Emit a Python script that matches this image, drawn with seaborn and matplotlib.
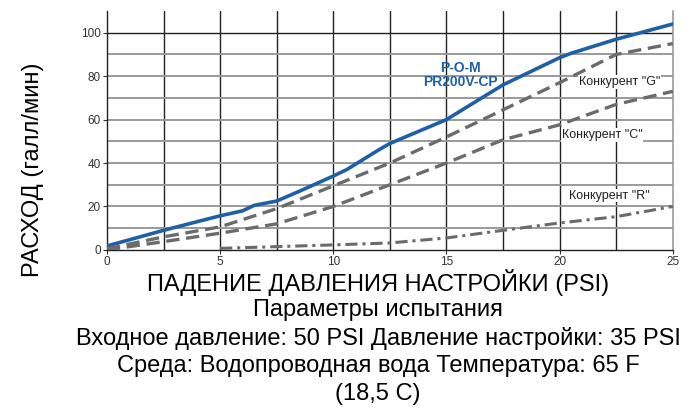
import numpy as np
import pandas as pd
import matplotlib
matplotlib.use("Agg")
import matplotlib.pyplot as plt
import seaborn as sns

# Data
pom_x = [0, 2.5, 5, 6, 6.5, 7.5, 8.5, 10, 10.6, 12, 12.5, 15, 17.5, 20, 20.5, 22.5, 25]
pom_y = [1.8, 9, 15.7, 18, 20.5, 22.5, 27, 34, 37, 46, 49, 60, 76, 88.5, 90.5, 97, 104]

g_x = [0, 2.5, 5, 7.5, 10, 12.5, 15, 17.5, 20, 22.5, 25]
g_y = [0.5, 6, 10.6, 19, 29.5, 40, 52, 64.5, 77, 90, 95]

c_x = [0, 2.5, 5, 7.5, 10, 12.5, 15, 17.5, 20, 22.5, 25]
c_y = [0, 3.8, 7.7, 12, 20, 30, 40, 50.7, 57.6, 67, 73]

r_x = [5, 7.5, 10, 12.5, 15, 17.5, 20, 22.5, 25]
r_y = [0.7, 1.5, 2.3, 3.2, 5.5, 9, 12.4, 15.3, 20]

x_ticks = [0, 5, 10, 15, 20, 25]
y_ticks = [0, 20, 40, 60, 80, 100]

sns.set_theme(style="white")
plt.rcParams['font.family'] = ['Liberation Sans', 'DejaVu Sans']
plt.rcParams['text.color'] = 'black'

fig = plt.figure(figsize=(6.81, 4.07), dpi=100)
ax = fig.add_axes([0.157, 0.386, 0.831, 0.587])

# grid
for v in [2.5, 5, 7.5, 10, 12.5, 15, 17.5, 20, 22.5]:
    ax.axvline(v, color="#222222", lw=1.0, zorder=1)
for v in range(10, 100, 10):
    ax.axhline(v, color="#9a9a9a", lw=1.4, zorder=1)
ax.axhline(100, color="#222222", lw=1.0, zorder=1)

blue = "#1f5fa6"
grey = "#6b6b6b"
sns.lineplot(x=pom_x, y=pom_y, ax=ax, color=blue, lw=2.6, zorder=3)
sns.lineplot(x=g_x, y=g_y, ax=ax, color=grey, lw=2.4, zorder=3).lines[-1].set_dashes([4, 2])
sns.lineplot(x=c_x, y=c_y, ax=ax, color=grey, lw=2.4, zorder=3).lines[-1].set_dashes([4, 2])
sns.lineplot(x=r_x, y=r_y, ax=ax, color=grey, lw=2.2, zorder=3).lines[-1].set_dashes([4, 1.6, 1, 1.6])

ax.text(15.6, 80.5, "P-O-M\nPR200V-CP", color=blue, fontsize=10, fontweight="bold",
        ha="center", va="center", linespacing=0.95, zorder=4)
lab_kw = dict(color="#222222", fontsize=9, ha="left", va="center", zorder=4,
              bbox=dict(fc="white", ec="none", pad=0.5))
ax.text(20.85, 77.4, "Конкурент \"G\"", **lab_kw)
ax.text(20.1, 53, "Конкурент \"C\"", **lab_kw)
ax.text(20.4, 25, "Конкурент \"R\"", **lab_kw)

ax.set_xlim(0, 25)
ax.set_ylim(0, 110)
ax.set_xticks(x_ticks)
ax.set_yticks(y_ticks)
ax.tick_params(axis="both", labelsize=8.5, colors="#333333", length=3, width=0.8, pad=1.5)
ax.tick_params(axis="both", direction="out", bottom=True, left=True)

for s in ["left", "bottom"]:
    ax.spines[s].set_color("#222222")
    ax.spines[s].set_linewidth(1.0)
ax.spines["top"].set_visible(False)
ax.spines["right"].set_color("#9a9a9a")
ax.spines["right"].set_linewidth(1.2)

fig.text(0.048, 0.582, "РАСХОД (галл/мин)", rotation=90, fontsize=17,
         ha="center", va="center", color="black")

lines = ["ПАДЕНИЕ ДАВЛЕНИЯ НАСТРОЙКИ (PSI)",
         "Параметры испытания",
         "Входное давление: 50 PSI Давление настройки: 35 PSI",
         "Среда: Водопроводная вода Температура: 65 F",
         "(18,5 C)"]
ys = [282, 310, 338, 366, 394]
for t, y in zip(lines, ys):
    fig.text(0.555, 1 - y / 407, t, fontsize=17, ha="center", va="center", color="black")

fig.savefig("out.png", dpi=100)
